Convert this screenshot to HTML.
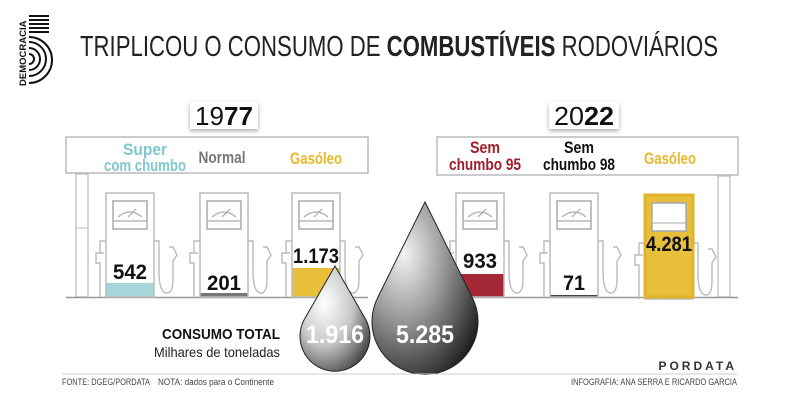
<!DOCTYPE html>
<html><head><meta charset="utf-8"><style>
body{margin:0;background:#fff}
svg{display:block;font-family:"Liberation Sans",sans-serif}
</style></head><body>
<svg width="800" height="419" viewBox="0 0 800 419">
<defs>
<radialGradient id="g1" cx="0.35" cy="0.35" r="0.8">
<stop offset="0" stop-color="#fff"/><stop offset="0.5" stop-color="#c8c8c8"/><stop offset="1" stop-color="#333"/></radialGradient>
<radialGradient id="g2" cx="0.3" cy="0.3" r="0.85">
<stop offset="0" stop-color="#f4f4f4"/><stop offset="0.45" stop-color="#999"/><stop offset="1" stop-color="#1a1a1a"/></radialGradient>
<g id="pump">
<rect x="0" y="0" width="48" height="104" fill="none" stroke="#bbb" stroke-width="1.5"/>
<rect x="7" y="8" width="34" height="28" fill="none" stroke="#aaa" stroke-width="1.5"/>
<line x1="7" y1="28" x2="41" y2="28" stroke="#aaa" stroke-width="1.2"/>
<path d="M12 24 Q24 14 36 24" fill="none" stroke="#aaa" stroke-width="1.2"/>
<line x1="22" y1="24" x2="30" y2="16" stroke="#aaa" stroke-width="1.2"/>
<path d="M0 48 h-6 v12 h-4 v10 h4 v34 M-6 60 h4" fill="none" stroke="#bbb" stroke-width="1.4"/>
<path d="M48 48 h5 v30 q0 22 8 22 q6 0 6 -14 v-18 l4 -6 l-4 -8 h-4" fill="none" stroke="#bbb" stroke-width="1.4"/>
</g>
</defs>
<g fill="#111">
<text transform="translate(26,86) rotate(-90)" font-size="9.5" font-weight="bold">DEMOCRACIA</text>
<rect x="29" y="15" width="20" height="2"/><rect x="29" y="19" width="20" height="2"/><rect x="29" y="23" width="20" height="2"/><rect x="29" y="27" width="20" height="2"/><rect x="29" y="31" width="20" height="2"/>
<path d="M29 37 a23 23 0 0 1 0 46" fill="none" stroke="#111" stroke-width="2"/>
<path d="M29 42 a17 17 0 0 1 0 34" fill="none" stroke="#111" stroke-width="2"/>
<path d="M29 48 a11 11 0 0 1 0 22" fill="none" stroke="#111" stroke-width="2"/>
<path d="M29 54 a5 5 0 0 1 0 10" fill="none" stroke="#111" stroke-width="2"/>
</g>
<text x="80" y="56" font-size="29" fill="#222" textLength="638" lengthAdjust="spacingAndGlyphs">TRIPLICOU O CONSUMO DE <tspan font-weight="bold">COMBUSTÍVEIS</tspan> RODOVIÁRIOS</text>
<rect x="190" y="102" width="68" height="27" fill="#fff" style="filter:drop-shadow(0 2px 2px #aaa)"/>
<text x="224" y="125" font-size="26" text-anchor="middle" fill="#111" textLength="58" lengthAdjust="spacingAndGlyphs">19<tspan font-weight="bold">77</tspan></text>
<rect x="549" y="102" width="70" height="27" fill="#fff" style="filter:drop-shadow(0 2px 2px #aaa)"/>
<text x="584" y="125" font-size="26" text-anchor="middle" fill="#111" textLength="60" lengthAdjust="spacingAndGlyphs">20<tspan font-weight="bold">22</tspan></text>
<rect x="66" y="137" width="302" height="36" fill="#fff" stroke="#bbb" stroke-width="1.5"/>
<rect x="437" y="137" width="301" height="38" fill="#fff" stroke="#bbb" stroke-width="1.5"/>
<g font-weight="bold" font-size="17" text-anchor="middle">
<text x="145" y="155" fill="#7fc8cf" textLength="44" lengthAdjust="spacingAndGlyphs">Super</text>
<text x="145" y="171" fill="#7fc8cf" textLength="82" lengthAdjust="spacingAndGlyphs">com chumbo</text>
<text x="222" y="163" fill="#777" textLength="47" lengthAdjust="spacingAndGlyphs">Normal</text>
<text x="316" y="164" fill="#e5b92a" textLength="52" lengthAdjust="spacingAndGlyphs">Gasóleo</text>
<text x="485" y="153" fill="#a01c2a" textLength="30" lengthAdjust="spacingAndGlyphs">Sem</text>
<text x="485" y="170" fill="#a01c2a" textLength="72" lengthAdjust="spacingAndGlyphs">chumbo 95</text>
<text x="579" y="153" fill="#111" textLength="30" lengthAdjust="spacingAndGlyphs">Sem</text>
<text x="579" y="170" fill="#111" textLength="72" lengthAdjust="spacingAndGlyphs">chumbo 98</text>
<text x="670" y="164" fill="#e5b92a" textLength="52" lengthAdjust="spacingAndGlyphs">Gasóleo</text>
</g>
<rect x="76" y="174" width="12" height="123" fill="none" stroke="#bbb" stroke-width="1.2"/>
<line x1="76" y1="228" x2="88" y2="228" stroke="#bbb"/>
<rect x="718" y="176" width="12" height="121" fill="none" stroke="#bbb" stroke-width="1.2"/>
<line x1="66" y1="297.5" x2="368" y2="297.5" stroke="#999" stroke-width="1.5"/>
<line x1="430" y1="297.5" x2="738" y2="297.5" stroke="#999" stroke-width="1.5"/>
<rect x="106" y="283" width="48" height="14" fill="#a6d6da"/>
<rect x="200" y="293" width="48" height="4" fill="#777"/>
<rect x="292" y="268" width="48" height="29" fill="#e8bf3a"/>
<rect x="456" y="274" width="48" height="23" fill="#a52836"/>
<rect x="550" y="295" width="48" height="2" fill="#444"/>
<rect x="645" y="195" width="48" height="102" fill="#e8bf3a"/>
<use href="#pump" x="106" y="193"/>
<use href="#pump" x="200" y="193"/>
<use href="#pump" x="292" y="193"/>
<use href="#pump" x="456" y="193"/>
<use href="#pump" x="550" y="193"/>
<use href="#pump" x="645" y="195"/>
<rect x="645" y="195" width="48" height="102" fill="none" stroke="#e0b32a" stroke-width="3"/>
<rect x="652" y="203" width="34" height="28" fill="#fff" stroke="#aaa" stroke-width="1.5"/>
<line x1="652" y1="223" x2="686" y2="223" stroke="#aaa"/>
<g font-weight="bold" font-size="21" text-anchor="middle" fill="#111">
<text x="130" y="279" textLength="34" lengthAdjust="spacingAndGlyphs">542</text>
<text x="224" y="290" textLength="34" lengthAdjust="spacingAndGlyphs">201</text>
<text x="316" y="263" textLength="46" lengthAdjust="spacingAndGlyphs">1.173</text>
<text x="480" y="268" textLength="34" lengthAdjust="spacingAndGlyphs">933</text>
<text x="574" y="290" textLength="22" lengthAdjust="spacingAndGlyphs">71</text>
<text x="669" y="251" textLength="46" lengthAdjust="spacingAndGlyphs">4.281</text>
</g>
<path d="M335 266 L304 320 A35 35 0 1 0 366 320 Z" fill="url(#g1)" stroke="#222" stroke-width="1"/>
<path d="M425 202 L378 297 A53 53 0 1 0 472 297 Z" fill="url(#g2)" stroke="#222" stroke-width="1"/>
<text x="335" y="343" font-size="25" font-weight="bold" fill="#fff" text-anchor="middle" textLength="58" lengthAdjust="spacingAndGlyphs">1.916</text>
<text x="425" y="343" font-size="25" font-weight="bold" fill="#fff" text-anchor="middle" textLength="58" lengthAdjust="spacingAndGlyphs">5.285</text>
<text x="280" y="339" font-size="15" font-weight="bold" fill="#111" text-anchor="end" textLength="118" lengthAdjust="spacingAndGlyphs">CONSUMO TOTAL</text>
<text x="280" y="357" font-size="14" fill="#222" text-anchor="end" textLength="126" lengthAdjust="spacingAndGlyphs">Milhares de toneladas</text>
<text x="737" y="370" font-size="12" font-weight="bold" fill="#333" text-anchor="end" letter-spacing="3">PORDATA</text>
<line x1="62" y1="374" x2="737" y2="374" stroke="#ccc"/>
<text x="62" y="385" font-size="9" fill="#444" textLength="88" lengthAdjust="spacingAndGlyphs">FONTE: DGEG/PORDATA</text>
<text x="158" y="385" font-size="9" fill="#444" textLength="116" lengthAdjust="spacingAndGlyphs">NOTA: dados para o Continente</text>
<text x="737" y="385" font-size="9" fill="#444" text-anchor="end" textLength="166" lengthAdjust="spacingAndGlyphs">INFOGRAFIA: ANA SERRA E RICARDO GARCIA</text>
</svg>
</body></html>
